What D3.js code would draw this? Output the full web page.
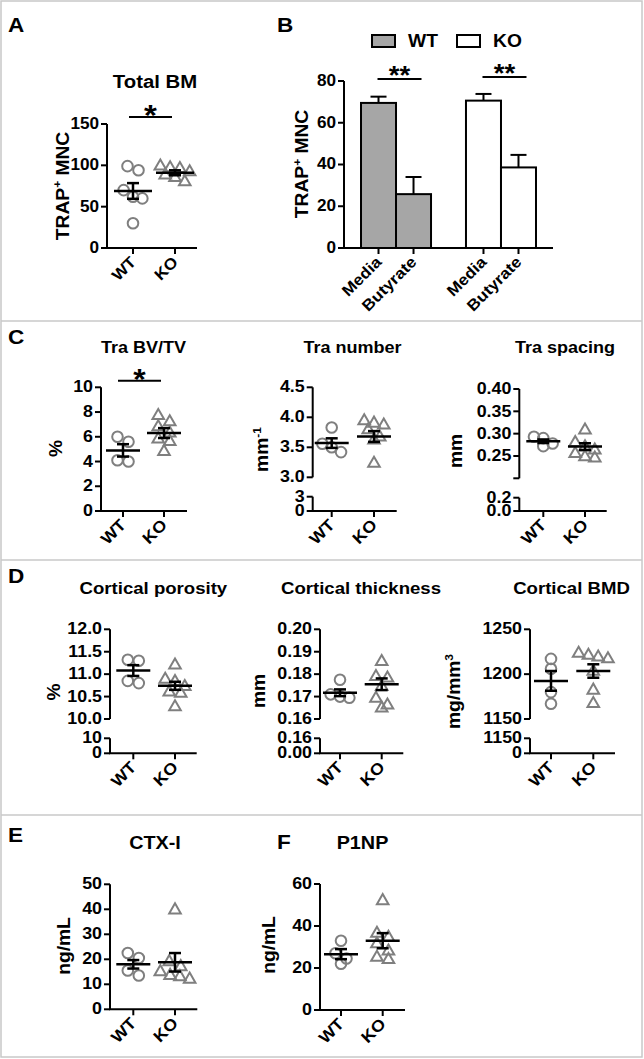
<!DOCTYPE html>
<html><head><meta charset="utf-8">
<script src="https://cdn.jsdelivr.net/npm/d3@7"></script>
<style>
body{margin:0;background:#fff}
svg{display:block}
</style>
</head><body>
<svg id="fig" width="644" height="1059"></svg>
<script>
// ---------------- DATA ----------------
const groups = ["WT", "KO"];

// A: Total BM, TRAP+ MNC
const bmWT = [99, 94, 70, 62, 60, 30];
const bmKO = [99, 97, 96, 92, 88, 85, 80];
const bmMean = [69, 91];
const bmSem = [9.5, 3];
const bmTicks = [0, 50, 100, 150];

// B: TRAP+ MNC bars
const bConds = ["Media", "Butyrate"];
const bWTMean = [69.5, 25.8];
const bWTSem = [3, 8.2];
const bKOMean = [70.6, 38.6];
const bKOSem = [3.2, 6];
const bTicks = [0, 20, 40, 60, 80];

// C: trabecular
const bvWT = [6.0, 5.6, 4.1, 4.0];
const bvKO = [7.7, 7.2, 6.8, 6.3, 5.8, 5.6, 4.8];
const bvMean = [4.9, 6.3];
const bvSem = [0.5, 0.4];
const bvTicks = [0, 2, 4, 6, 8, 10];

const tnWT = [3.83, 3.56, 3.50, 3.42];
const tnKO = [3.94, 3.90, 3.87, 3.79, 3.67, 3.62, 3.23];
const tnMean = [3.57, 3.68];
const tnSem = [0.08, 0.09];
const tnTicks = [3.0, 3.5, 4.0, 4.5];
const tnLow = ["0", "3"];

const tsWT = [0.293, 0.290, 0.278, 0.272];
const tsKO = [0.308, 0.280, 0.270, 0.263, 0.255, 0.248, 0.245];
const tsMean = [0.283, 0.271];
const tsSem = [0.004, 0.0075];
const tsTicks = [0.20, 0.25, 0.30, 0.35, 0.40];
const tsLow = ["0.0", "0.2"];

// D: cortical
const cpWT = [11.32, 11.30, 10.85, 10.80];
const cpKO = [11.2, 10.88, 10.83, 10.72, 10.6, 10.57, 10.27];
const cpMean = [11.08, 10.74];
const cpSem = [0.12, 0.09];
const cpTicks = [10.0, 10.5, 11.0, 11.5, 12.0];
const cpLow = ["0", "10"];

const ctWT = [0.1775, 0.1710, 0.1700, 0.1695];
const ctKO = [0.1856, 0.1789, 0.1782, 0.1744, 0.1692, 0.1662, 0.1648];
const ctMean = [0.1717, 0.1755];
const ctSem = [0.0015, 0.0026];
const ctTicks = [0.16, 0.17, 0.18, 0.19, 0.20];
const ctLow = ["0.00", "0.16"];

const bmdWT = [1217, 1206, 1180, 1167];
const bmdKO = [1223, 1221, 1219, 1217, 1203, 1182, 1167];
const bmdMean = [1192.5, 1203.5];
const bmdSem = [11, 7.5];
const bmdTicks = [1150, 1200, 1250];
const bmdLow = ["0", "1150"];

// E, F: serum markers
const ctxWT = [22.5, 20.5, 15.5, 13.5];
const ctxKO = [39.7, 19, 17, 15, 13.5, 12, 13];
const ctxMean = [18, 18.8];
const ctxSem = [1.7, 3.7];
const ctxTicks = [0, 10, 20, 30, 40, 50];

const p1WT = [33, 27, 24.5, 22];
const p1KO = [52, 36.5, 34.5, 31.5, 28, 25, 24];
const p1Mean = [26.6, 33];
const p1Sem = [2.4, 3.6];
const p1Ticks = [0, 20, 40, 60];

// ---------------- DRAWING ----------------
const FONT = "'Liberation Sans', Arial, Helvetica, sans-serif";
const SX = 1.1;          // horizontal glyph stretch seen in the figure
const PT = "#7f7f7f";    // point colour
const svg = d3.select("#fig");

function label(parent, x, y, parts, o) {
  o = o || {};
  const fs = o.size || 16;
  const t = parent.append("text")
    .attr("transform", `translate(${x},${y}) rotate(${o.rot || 0}) scale(${o.sx || SX},1)`)
    .attr("text-anchor", o.anchor || "middle")
    .attr("font-family", FONT).attr("font-weight", "bold")
    .attr("font-size", fs).attr("fill", "#000");
  if (typeof parts === "string") { t.text(parts); return t; }
  let shifted = false;
  parts.forEach(p => {
    const s = t.append("tspan").text(p.t);
    if (p.sup) { s.attr("font-size", fs * 0.62).attr("dy", -fs * 0.42); shifted = true; }
    else if (shifted) { s.attr("dy", fs * 0.42); shifted = false; }
  });
  return t;
}

function styleAxis(g, fs) {
  g.attr("font-family", FONT).attr("font-size", fs).attr("font-weight", "bold");
  g.selectAll("path,line").attr("stroke", "#000").attr("stroke-width", 2);
  g.selectAll("text").attr("fill", "#000").each(function () {
    const t = d3.select(this);
    const x = +t.attr("x") || 0;
    t.attr("x", x / SX).attr("transform", `scale(${SX},1)`);
  });
}

function xAxis(g, scale, base, x0, x1, fs) {
  const xa = g.append("g").attr("transform", `translate(0,${base})`)
    .call(d3.axisBottom(scale).tickSize(6).tickSizeOuter(0).offset(0));
  xa.select(".domain").remove();
  xa.attr("font-family", FONT).attr("font-size", fs).attr("font-weight", "bold");
  xa.selectAll("line").attr("stroke", "#000").attr("stroke-width", 2);
  xa.selectAll("text").attr("fill", "#000").attr("x", 0).attr("y", 0).attr("dy", null)
    .attr("text-anchor", "end")
    .attr("transform", `translate(4,15) rotate(-45) scale(${SX},1)`);
  g.append("line").attr("x1", x0 - 1).attr("x2", x1).attr("y1", base).attr("y2", base)
    .attr("stroke", "#000").attr("stroke-width", 2);
}

function swarm(vals, y, cx, spacing) {
  const pts = vals.map(v => ({ v, py: y(v) })).sort((a, b) => a.py - b.py);
  const rows = []; let cur = null;
  pts.forEach(p => {
    if (!cur || p.py - cur[0].py >= 9) { cur = [p]; rows.push(cur); } else cur.push(p);
  });
  rows.forEach(r => {
    const sp = r.length > 2 ? spacing * 0.85 : spacing;
    r.forEach((p, i) => { p.px = cx + (i - (r.length - 1) / 2) * sp; });
  });
  return pts;
}

function scatterPanel(L, D) {
  const g = svg.append("g");
  const y = d3.scaleLinear().domain(D.domain).range([L.yBot, L.yTop]);
  const x = d3.scalePoint().domain(groups).range(L.xt);

  // points
  const wtPts = swarm(D.wt, y, x("WT"), 11);
  const koPts = swarm(D.ko, y, x("KO"), 11.5);
  g.selectAll("circle.pt").data(wtPts).join("circle").attr("class", "pt")
    .attr("cx", d => d.px).attr("cy", d => d.py).attr("r", 5.3)
    .attr("fill", "none").attr("stroke", PT).attr("stroke-width", 2);
  const tri = d3.symbol().type(d3.symbolTriangle).size(58);
  g.selectAll("path.pt").data(koPts).join("path").attr("class", "pt")
    .attr("d", tri).attr("transform", d => `translate(${d.px},${d.py})`)
    .attr("fill", "none").attr("stroke", PT).attr("stroke-width", 2);

  // mean +/- SEM
  groups.forEach((k, i) => {
    const cx = x(k), m = D.mean[i], s = D.sem[i];
    const hw = L.hw || 17, cw = 6;
    g.append("line").attr("x1", cx - hw).attr("x2", cx + hw).attr("y1", y(m)).attr("y2", y(m))
      .attr("stroke", "#000").attr("stroke-width", 2.5);
    g.append("line").attr("x1", cx).attr("x2", cx).attr("y1", y(m - s)).attr("y2", y(m + s))
      .attr("stroke", "#000").attr("stroke-width", 2.5);
    [m - s, m + s].forEach(v => g.append("line").attr("x1", cx - cw).attr("x2", cx + cw)
      .attr("y1", y(v)).attr("y2", y(v)).attr("stroke", "#000").attr("stroke-width", 2.5));
  });

  // y axis
  const ya = g.append("g").attr("transform", `translate(${L.ax},0)`)
    .call(d3.axisLeft(y).tickValues(D.ticks).tickFormat(D.fmt).tickSize(6).tickPadding(2).tickSizeOuter(0).offset(0));
  styleAxis(ya, L.fs);
  if (D.low) {
    const yl = d3.scaleLinear().domain([0, 1]).range([L.base, L.lowTop]);
    const la = g.append("g").attr("transform", `translate(${L.ax},0)`)
      .call(d3.axisLeft(yl).tickValues([0, 1]).tickFormat((d, i) => D.low[i]).tickSize(6).tickPadding(2).tickSizeOuter(0).offset(0));
    styleAxis(la, L.fs);
  }
  xAxis(g, x, L.base, L.ax, L.xEnd, L.fs);

  // title, y label
  label(g, L.title[0], L.title[1], D.title, { size: L.titleFs });
  label(g, L.yl[0], L.yl[1], D.ylabel, { size: 17.5, rot: -90 });

  if (L.sig) {
    g.append("line").attr("x1", L.sig[0]).attr("x2", L.sig[1]).attr("y1", L.sig[2]).attr("y2", L.sig[2])
      .attr("stroke", "#000").attr("stroke-width", 2);
    const fs = L.sigFs || 30;
    label(g, (L.sig[0] + L.sig[1]) / 2, L.sig[3] + 0.553 * fs, "*", { size: fs });
  }
}

// frame
const frame = svg.append("g").attr("fill", "none").attr("stroke", "#c8c8c8").attr("stroke-width", 1.5);
frame.append("rect").attr("x", 1).attr("y", 1).attr("width", 641).attr("height", 1056);
[321, 560, 815].forEach(yy => frame.append("line").attr("x1", 1).attr("x2", 642).attr("y1", yy).attr("y2", yy));

// panel letters
[["A", 8, 32], ["B", 277, 32], ["C", 8, 344], ["D", 8, 583], ["E", 8, 842], ["F", 277, 849]]
  .forEach(([t, x, y]) => label(svg, x, y, t, { size: 20.5, anchor: "start" }));

const f1 = d3.format(".1f"), f2 = d3.format(".2f"), f0 = d3.format("d");
const TFS = 16.2; // tick font size

// A
scatterPanel(
  { ax: 107, xEnd: 197, xt: [133, 175], yBot: 248, yTop: 124, base: 248, fs: 15.6, hw: 19,
    title: [155, 88], titleFs: 18.5, yl: [68.5, 186], sig: [129, 172, 117, 108], sigFs: 30 },
  { wt: bmWT, ko: bmKO, mean: bmMean, sem: bmSem, domain: [0, 150], ticks: bmTicks, fmt: f0,
    title: "Total BM", ylabel: [{ t: "TRAP" }, { t: "+", sup: true }, { t: " MNC" }] });

// B
(function () {
  const g = svg.append("g");
  const y = d3.scaleLinear().domain([0, 80]).range([248, 81]);
  const xG = d3.scaleBand().domain(groups).range([344, 553]).paddingInner(0.333).paddingOuter(0.162);
  const xC = d3.scaleBand().domain(bConds).range([0, xG.bandwidth()]);
  const fills = { WT: "#a6a6a6", KO: "#ffffff" };
  const rows = [];
  groups.forEach(k => bConds.forEach((c, i) => rows.push({
    k, c, key: k + "-" + c,
    m: k === "WT" ? bWTMean[i] : bKOMean[i],
    s: k === "WT" ? bWTSem[i] : bKOSem[i] })));
  g.selectAll("rect.bar").data(rows).join("rect").attr("class", "bar")
    .attr("x", d => xG(d.k) + xC(d.c)).attr("width", xC.bandwidth())
    .attr("y", d => y(d.m)).attr("height", d => y(0) - y(d.m))
    .attr("fill", d => fills[d.k]).attr("stroke", "#000").attr("stroke-width", 2);
  rows.forEach(d => {
    const cx = xG(d.k) + xC(d.c) + xC.bandwidth() / 2;
    g.append("line").attr("x1", cx).attr("x2", cx).attr("y1", y(d.m)).attr("y2", y(d.m + d.s))
      .attr("stroke", "#000").attr("stroke-width", 2);
    g.append("line").attr("x1", cx - 8).attr("x2", cx + 8).attr("y1", y(d.m + d.s)).attr("y2", y(d.m + d.s))
      .attr("stroke", "#000").attr("stroke-width", 2);
  });
  const ya = g.append("g").attr("transform", "translate(344,0)")
    .call(d3.axisLeft(y).tickValues(bTicks).tickSize(6).tickPadding(2).tickSizeOuter(0).offset(0));
  styleAxis(ya, 15.6);
  const xo = d3.scaleOrdinal().domain(rows.map(d => d.key))
    .range(rows.map(d => xG(d.k) + xC(d.c) + xC.bandwidth() / 2));
  const xa = g.append("g").attr("transform", "translate(0,248)")
    .call(d3.axisBottom(xo).tickSize(6).tickSizeOuter(0).offset(0).tickFormat(k => k.split("-")[1]));
  xa.select(".domain").remove();
  xa.attr("font-family", FONT).attr("font-size", 15.6).attr("font-weight", "bold");
  xa.selectAll("line").attr("stroke", "#000").attr("stroke-width", 2);
  xa.selectAll("text").attr("fill", "#000").attr("x", 0).attr("y", 0).attr("dy", null)
    .attr("text-anchor", "end").attr("transform", `translate(4,15) rotate(-45) scale(${SX},1)`);
  g.append("line").attr("x1", 343).attr("x2", 553).attr("y1", 248).attr("y2", 248)
    .attr("stroke", "#000").attr("stroke-width", 2);

  label(g, 308, 164, [{ t: "TRAP" }, { t: "+", sup: true }, { t: " MNC" }], { size: 17.5, rot: -90 });

  // legend
  const leg = [["WT", 372, 408], ["KO", 457, 493]];
  leg.forEach(([k, rx, tx]) => {
    g.append("rect").attr("x", rx).attr("y", 35).attr("width", 23).attr("height", 12)
      .attr("fill", fills[k]).attr("stroke", "#000").attr("stroke-width", 2);
    label(g, tx, 47, k, { size: 17.5, anchor: "start" });
  });

  // significance
  groups.forEach(k => {
    const x0 = xG(k) + xC.bandwidth() / 2 - 1, x1 = xG(k) + xG.bandwidth() - xC.bandwidth() / 2 + 8;
    const ly = k === "WT" ? 79 : 77;
    g.append("line").attr("x1", x0).attr("x2", x1).attr("y1", ly).attr("y2", ly)
      .attr("stroke", "#000").attr("stroke-width", 2);
    label(g, (x0 + x1) / 2, ly - 9 + 0.553 * 25, "**", { size: 25 });
  });
})();

// C
scatterPanel(
  { ax: 101, xEnd: 187, xt: [123, 164], yBot: 511, yTop: 387.3, base: 511, fs: TFS,
    title: [143.5, 353], titleFs: 16.4, yl: [61.5, 448.5], sig: [118, 161, 380.7, 372.5], sigFs: 29 },
  { wt: bvWT, ko: bvKO, mean: bvMean, sem: bvSem, domain: [0, 10], ticks: bvTicks, fmt: f0,
    title: "Tra BV/TV", ylabel: "%" });

scatterPanel(
  { ax: 312.7, xEnd: 396.7, xt: [331.7, 374], yBot: 477.3, yTop: 387.3, base: 511, lowTop: 496.7, fs: TFS,
    title: [352.5, 353], titleFs: 16.4, yl: [268, 449.5] },
  { wt: tnWT, ko: tnKO, mean: tnMean, sem: tnSem, domain: [3.0, 4.5], ticks: tnTicks, fmt: f1, low: tnLow,
    title: "Tra number", ylabel: [{ t: "mm" }, { t: "-1", sup: true }] });

scatterPanel(
  { ax: 519.3, xEnd: 606.7, xt: [543.3, 585], yBot: 478.3, yTop: 389, base: 511, lowTop: 497.7, fs: TFS,
    title: [565, 353], titleFs: 16.4, yl: [462, 451] },
  { wt: tsWT, ko: tsKO, mean: tsMean, sem: tsSem, domain: [0.2, 0.4], ticks: tsTicks,
    fmt: d => (Math.abs(d - 0.2) < 1e-9 ? "" : f2(d)), low: tsLow,
    title: "Tra spacing", ylabel: "mm" });

// D
scatterPanel(
  { ax: 110, xEnd: 196.7, xt: [133.3, 175], yBot: 719, yTop: 629.3, base: 753.3, lowTop: 738.3, fs: TFS,
    title: [153.4, 594], titleFs: 16.9, yl: [60, 692] },
  { wt: cpWT, ko: cpKO, mean: cpMean, sem: cpSem, domain: [10, 12], ticks: cpTicks, fmt: f1, low: cpLow,
    title: "Cortical porosity", ylabel: "%" });

scatterPanel(
  { ax: 320, xEnd: 403.3, xt: [340, 381.7], yBot: 719, yTop: 629.3, base: 753.3, lowTop: 738.3, fs: TFS,
    title: [361, 594], titleFs: 16.9, yl: [265, 691] },
  { wt: ctWT, ko: ctKO, mean: ctMean, sem: ctSem, domain: [0.16, 0.20], ticks: ctTicks, fmt: f2, low: ctLow,
    title: "Cortical thickness", ylabel: "mm" });

scatterPanel(
  { ax: 530, xEnd: 615, xt: [551, 593.3], yBot: 719, yTop: 629.3, base: 753.3, lowTop: 738.3, fs: TFS,
    title: [571.5, 594], titleFs: 16.9, yl: [460, 691.5] },
  { wt: bmdWT, ko: bmdKO, mean: bmdMean, sem: bmdSem, domain: [1150, 1250], ticks: bmdTicks, fmt: f0, low: bmdLow,
    title: "Cortical BMD", ylabel: [{ t: "mg/mm" }, { t: "3", sup: true }] });

// E
scatterPanel(
  { ax: 110, xEnd: 197.3, xt: [133.3, 175], yBot: 1009.3, yTop: 884.3, base: 1009.3, fs: TFS,
    title: [155, 849], titleFs: 18, yl: [69.5, 946] },
  { wt: ctxWT, ko: ctxKO, mean: ctxMean, sem: ctxSem, domain: [0, 50], ticks: ctxTicks, fmt: f0,
    title: "CTX-I", ylabel: "ng/mL" });

// F
scatterPanel(
  { ax: 320, xEnd: 405, xt: [341, 382.7], yBot: 1010, yTop: 884, base: 1010, fs: TFS,
    title: [362.5, 849], titleFs: 18, yl: [275, 945] },
  { wt: p1WT, ko: p1KO, mean: p1Mean, sem: p1Sem, domain: [0, 60], ticks: p1Ticks, fmt: f0,
    title: "P1NP", ylabel: "ng/mL" });
</script>
</body></html>
